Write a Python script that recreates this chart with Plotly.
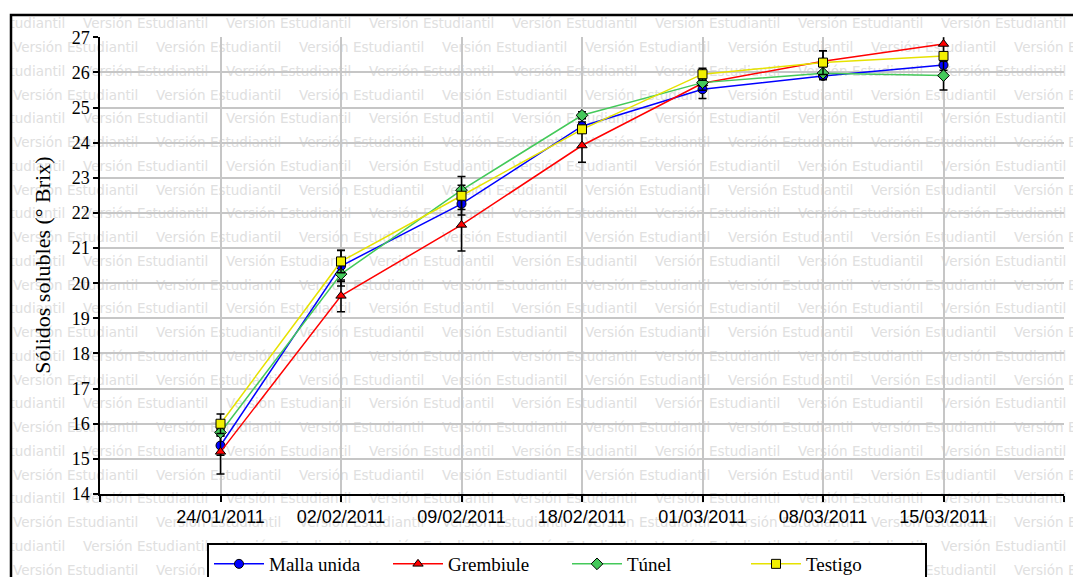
import plotly.graph_objects as go

# -----------------------------------------------------------------------
# Datos
# -----------------------------------------------------------------------
fechas = ["24/01/2011", "02/02/2011", "09/02/2011", "18/02/2011",
          "01/03/2011", "08/03/2011", "15/03/2011"]

malla_unida = [15.38, 20.49, 22.26, 24.47, 25.52, 25.90, 26.21]
grembiule = [15.20, 19.64, 21.66, 23.92, 25.69, 26.32, 26.81]
tunel = [15.75, 20.26, 22.65, 24.78, 25.71, 25.98, 25.91]
testigo = [16.00, 20.62, 22.49, 24.38, 25.95, 26.28, 26.47]

malla_err = [0.28, 0.44, 0.16, 0.12, 0.26, 0.10, 0.15]
grembiule_err = [0.63, 0.45, 0.74, 0.48, 0.20, 0.30, 0.34]
tunel_err = [0.10, 0.34, 0.14, 0.10, 0.10, 0.18, 0.41]
testigo_err = [0.28, 0.32, 0.55, 0.10, 0.17, 0.34, 0.10]

y_ticks = list(range(14, 28))

# -----------------------------------------------------------------------
# Estilo
# -----------------------------------------------------------------------
SCREEN_W, SCREEN_H = 1081, 577
OFF = 8  # margen por defecto del <body>
W, H = SCREEN_W - OFF, SCREEN_H - OFF
SERIF = "Liberation Serif, Times New Roman, serif"
SANS = "Liberation Sans, Arial, sans-serif"
GRID = "#c6c6c6"
WATERMARK = "Versión Estudiantil"
WM_COLOR = "#e0e0e0"

# zona del gráfico y marco (px de pantalla)
PX_L, PX_R, PX_T, PX_B = 100, 1064, 37.3, 494
FRAME_X, FRAME_Y = 11, 15


def px(sx):
    return (sx - OFF) / W


def py(sy):
    return 1 - (sy - OFF) / H


series = [
    ("Malla unida", malla_unida, malla_err, "#0000ff", "circle", "#0000ff"),
    ("Grembiule", grembiule, grembiule_err, "#ff0000", "triangle-up", "#ff0000"),
    ("Túnel", tunel, tunel_err, "#44c95a", "diamond", "#44c95a"),
    ("Testigo", testigo, testigo_err, "#e6e200", "square", "#f2f000"),
]

fig = go.Figure()

# marca de agua "Versión Estudiantil" (subplot de fondo, en px de pantalla)
wm_x, wm_y = [], []
row = 0
yy = 25.0
while yy < SCREEN_H + 20:
    xx = -60 if row % 2 == 0 else -130
    while xx < SCREEN_W:
        wm_x.append(xx)
        wm_y.append(yy)
        xx += 143
    yy += 23.75
    row += 1

fig.add_trace(go.Scatter(
    x=wm_x, y=wm_y, mode="text", text=[WATERMARK] * len(wm_x),
    textposition="middle right",
    textfont=dict(family="DejaVu Sans", size=13.5, color=WM_COLOR),
    hoverinfo="skip", showlegend=False, xaxis="x", yaxis="y",
))

posiciones = list(range(1, len(fechas) + 1))
for name, vals, errs, color, symbol, fill in series:
    fig.add_trace(go.Scatter(
        x=posiciones, y=vals, name=name, mode="lines+markers",
        line=dict(color=color, width=1.5),
        marker=dict(symbol=symbol, size=9, color=fill,
                    line=dict(color="black", width=1)),
        error_y=dict(type="data", array=errs, visible=True,
                     color="black", thickness=1.5, width=4),
        xaxis="x2", yaxis="y2",
    ))

fig.update_layout(
    width=W, height=H,
    paper_bgcolor="white",
    plot_bgcolor="rgba(0,0,0,0)",
    margin=dict(l=0, r=0, t=0, b=0, autoexpand=False),
    showlegend=True,
    # fondo (marca de agua)
    xaxis=dict(domain=[px(FRAME_X), 1], range=[FRAME_X, SCREEN_W],
               visible=False, fixedrange=True),
    yaxis=dict(domain=[0, py(FRAME_Y)], range=[SCREEN_H, FRAME_Y],
               visible=False, fixedrange=True),
    # gráfico principal
    xaxis2=dict(
        domain=[px(PX_L), px(PX_R)], anchor="y2",
        range=[0, len(fechas) + 1],
        tickvals=[0] + posiciones + [len(fechas) + 1],
        ticktext=[""] + fechas + [""],
        showgrid=True, gridcolor=GRID, gridwidth=1.5,
        showline=True, linecolor="black", linewidth=1.5,
        ticks="outside", ticklen=6, tickcolor="black", tickwidth=1.5,
        tickfont=dict(family=SANS, size=18, color="black"),
        zeroline=False,
    ),
    yaxis2=dict(
        domain=[py(PX_B), py(PX_T)], anchor="x2",
        range=[14, 27], tickvals=y_ticks,
        showgrid=True, gridcolor=GRID, gridwidth=1.5,
        showline=True, linecolor="black", linewidth=1.5,
        ticks="outside", ticklen=5, tickcolor="black", tickwidth=1.5,
        tickfont=dict(family=SERIF, size=18, color="black"),
        zeroline=False,
    ),
    legend=dict(
        orientation="h",
        x=px(207), y=py(543), xanchor="left", yanchor="top",
        bgcolor="white", bordercolor="black", borderwidth=2,
        font=dict(family=SERIF, size=19, color="black"),
        itemwidth=50,
        entrywidth=114, entrywidthmode="pixels",
        traceorder="normal",
    ),
    annotations=[dict(
        text="Sólidos solubles (° Brix)", textangle=-90,
        x=px(43), y=py((PX_T + PX_B) / 2), xref="paper", yref="paper",
        xanchor="center", yanchor="middle", showarrow=False,
        font=dict(family=SERIF, size=22, color="black"),
    )],
    shapes=[dict(
        type="rect", xref="paper", yref="paper",
        x0=px(FRAME_X), x1=1.05, y0=-0.05, y1=py(FRAME_Y),
        line=dict(color="black", width=2.5), fillcolor="rgba(0,0,0,0)",
    )],
)

fig.write_html("out.html")
